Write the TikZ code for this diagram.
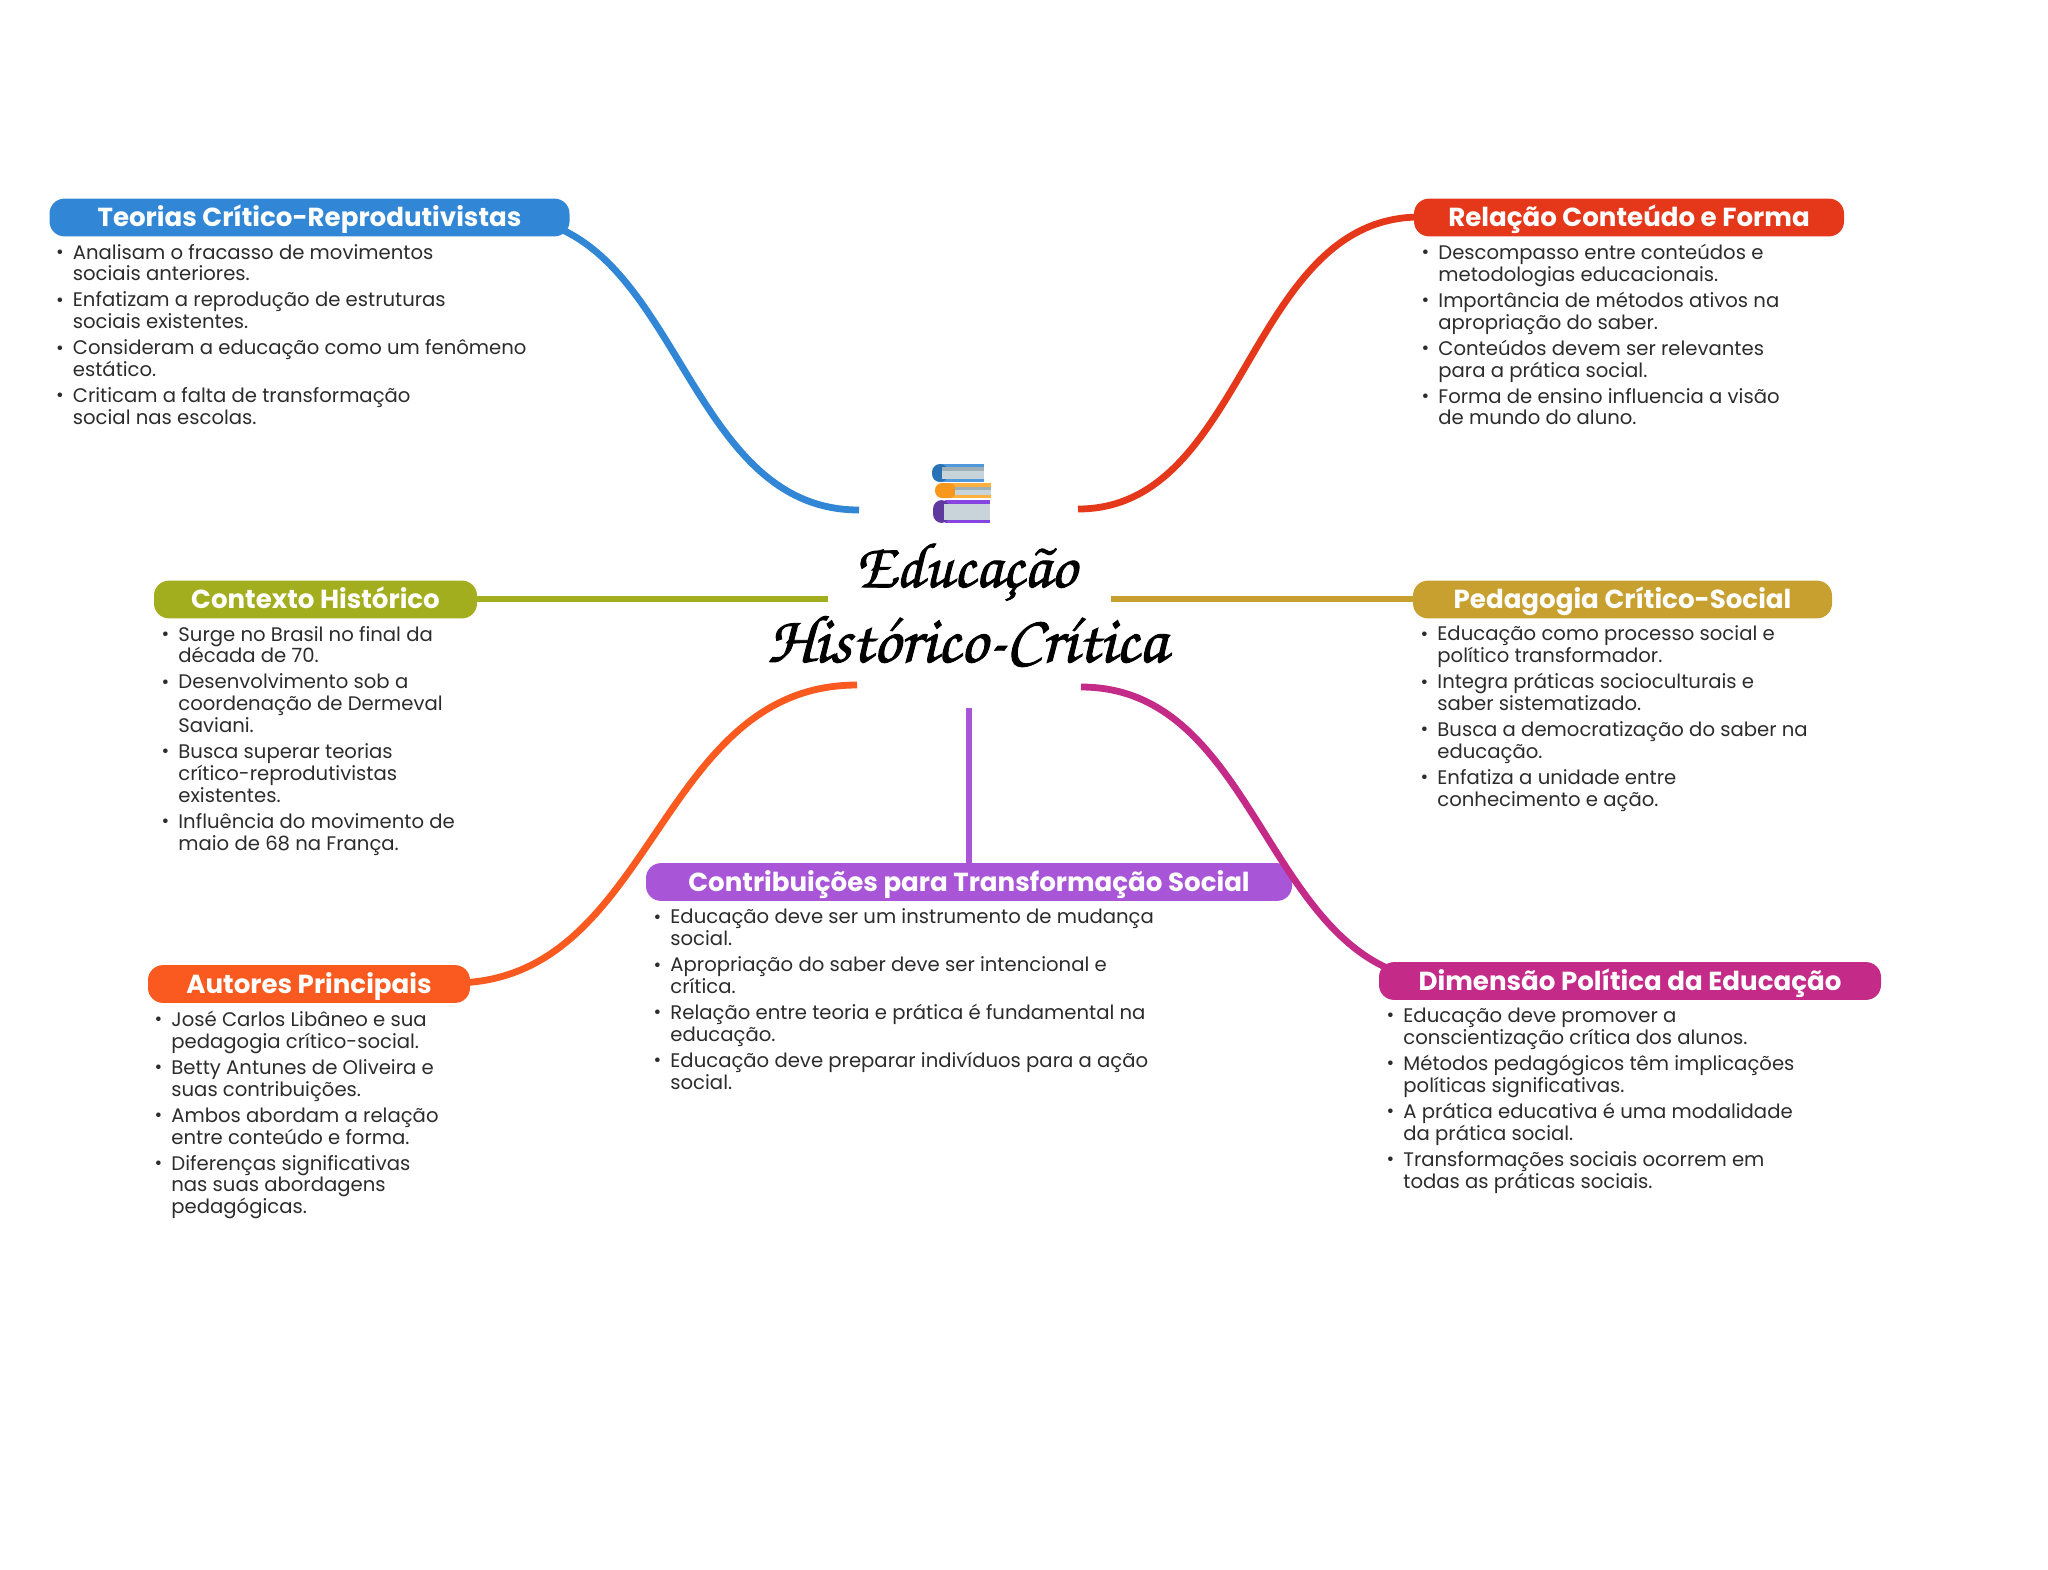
\documentclass[tikz,border=0pt]{standalone}
\usepackage{fontspec}
\setmainfont{Poppins}
\usetikzlibrary{positioning}
\definecolor{cblue}{HTML}{3186D6}
\definecolor{cred}{HTML}{E5381B}
\definecolor{cgreen}{HTML}{A3AE1E}
\definecolor{cgold}{HTML}{C8A030}
\definecolor{cpurple}{HTML}{A855D8}
\definecolor{corange}{HTML}{FA5A20}
\definecolor{cmag}{HTML}{C42A88}
\definecolor{ctext}{HTML}{2C2C2C}
\definecolor{pagegrey}{HTML}{C8D4DA}
\definecolor{pagedark}{HTML}{9DB0B8}
\definecolor{bookorange}{HTML}{F7981D}
\definecolor{booklight}{HTML}{FBB040}
\definecolor{bookviolet}{HTML}{5E3A9E}
\newcommand{\bl}{\leavevmode\llap{\raisebox{0.4pt}{\scalebox{0.95}{•}}\hspace{4.5pt}}}
\newcommand{\itemgap}{\\[2.05pt]}
\newcommand{\heavy}[1]{\special{pdf:code 2 Tr 0.45 w}#1\special{pdf:code 0 Tr 1 w}}
\tikzset{
 pill/.style={fill=#1,rounded corners=7.5pt,text=white,font=\fontsize{13.05}{15}\selectfont\bfseries,inner sep=0pt,text height=11pt,text depth=2pt,minimum height=18.9pt},
 blist/.style={anchor=north west,inner sep=0pt,align=left,text=ctext,font=\fontsize{9.82}{10.95}\selectfont},
 branch/.style={line width=3.4pt,draw=#1},
 titletext/.style={anchor=base,inner sep=0pt,text=black},
}
\begin{document}
\begin{tikzpicture}[x=0.5pt,y=-0.5pt]
\useasboundingbox (0,0) rectangle (2048,1569);
\fill[white] (0,0) rectangle (2048,1569);
% free ends at the centre
\coordinate (eBlue) at (859,510);
\coordinate (eRed) at (1078,509);
\coordinate (eGreen) at (828,599);
\coordinate (eGold) at (1111,599);
\coordinate (eOrange) at (857,685);
\coordinate (eMag) at (1081,687);
\coordinate (ePurple) at (969,708);
\coordinate (sBlue) at (503,217);
\coordinate (sMag) at (1449,981);
% connectors first, under the pills
\draw[branch=cblue] (sBlue) .. controls (680,217) and (680,510) .. (eBlue);
\draw[branch=cred] (eRed) .. controls (1247,509) and (1247,217) .. (1420,217);
\draw[branch=cgreen] (eGreen) -- (470,599);
\draw[branch=cgold] (eGold) -- (1420,599);
\draw[branch=corange] (eOrange) .. controls (655,685) and (655,983) .. (453,983);
\draw[branch=cpurple] (ePurple) -- (969,870);
% pills
\node[pill=cblue,minimum width=260pt] (teorias) at (309.5,217.5) {Teorias Crítico-Reprodutivistas};
\node[pill=cred,minimum width=215pt] (relacao) at (1629,217.5) {Relação Conteúdo e Forma};
\node[pill=cgreen,minimum width=161.5pt] (contexto) at (315.5,599.5) {Contexto Histórico};
\node[pill=cgold,minimum width=209.5pt] (pedagogia) at (1622.5,599.5) {Pedagogia Crítico-Social};
\node[pill=cpurple,minimum width=323pt] (contrib) at (969,882) {Contribuições para Transformação Social};
\node[pill=corange,minimum width=161pt] (autores) at (309,984) {Autores Principais};
\draw[branch=cmag] (eMag) .. controls (1265,687) and (1265,981) .. (sMag);
\node[pill=cmag,minimum width=251pt] (dimensao) at (1630,981) {Dimensão Política da Educação};
% lists
\node[blist] (l1) at (72.5,243.6) {\bl Analisam o fracasso de movimentos\\sociais anteriores.\itemgap\bl Enfatizam a reprodução de estruturas\\sociais existentes.\itemgap\bl Consideram a educação como um fenômeno\\estático.\itemgap\bl Criticam a falta de transformação\\social nas escolas.};
\node[blist] (l2) at (1438,243.6) {\bl Descompasso entre conteúdos e\\metodologias educacionais.\itemgap\bl Importância de métodos ativos na\\apropriação do saber.\itemgap\bl Conteúdos devem ser relevantes\\para a prática social.\itemgap\bl Forma de ensino influencia a visão\\de mundo do aluno.};
\node[blist] (l3) at (178,625.6) {\bl Surge no Brasil no final da\\década de 70.\itemgap\bl Desenvolvimento sob a\\coordenação de Dermeval\\Saviani.\itemgap\bl Busca superar teorias\\crítico-reprodutivistas\\existentes.\itemgap\bl Influência do movimento de\\maio de 68 na França.};
\node[blist] (l4) at (1437,625.6) {\bl Educação como processo social e\\político transformador.\itemgap\bl Integra práticas socioculturais e\\saber sistematizado.\itemgap\bl Busca a democratização do saber na\\educação.\itemgap\bl Enfatiza a unidade entre\\conhecimento e ação.};
\node[blist] (l5) at (670,908.6) {\bl Educação deve ser um instrumento de mudança\\social.\itemgap\bl Apropriação do saber deve ser intencional e\\crítica.\itemgap\bl Relação entre teoria e prática é fundamental na\\educação.\itemgap\bl Educação deve preparar indivíduos para a ação\\social.};
\node[blist] (l6) at (171,1010.6) {\bl José Carlos Libâneo e sua\\pedagogia crítico-social.\itemgap\bl Betty Antunes de Oliveira e\\suas contribuições.\itemgap\bl Ambos abordam a relação\\entre conteúdo e forma.\itemgap\bl Diferenças significativas\\nas suas abordagens\\pedagógicas.};
\node[blist] (l7) at (1403,1007.6) {\bl Educação deve promover a\\conscientização crítica dos alunos.\itemgap\bl Métodos pedagógicos têm implicações\\políticas significativas.\itemgap\bl A prática educativa é uma modalidade\\da prática social.\itemgap\bl Transformações sociais ocorrem em\\todas as práticas sociais.};
% title
\node[titletext,font=\usefont{T1}{pzc}{mb}{it}\fontsize{32}{40}\selectfont] (t1) at (966,587) {\heavy{Educa\c{c}\~ao}};
\node[titletext,font=\usefont{T1}{pzc}{mb}{it}\fontsize{33.8}{40}\selectfont] (t2) at (967,662) {\heavy{Hist\'orico-Cr\'{\i}tica}};
% book icon
% top book
\fill[cblue!85!white] (940,464) rectangle (984,482);
\fill[cblue!85!black,rounded corners=4pt] (932,464) rectangle (948,482);
\fill[pagegrey] (942,467) rectangle (984,479);
\fill[pagedark] (942,467) rectangle (984,470.5);
% middle book
\fill[booklight] (945,483) rectangle (991,498);
\fill[bookorange,rounded corners=3.5pt] (935,483) rectangle (956,498);
\fill[pagegrey] (955,486.5) rectangle (991,495);
\fill[pagedark] (955,486.5) rectangle (991,489.5);
% bottom book
\fill[cpurple!80!blue] (945,500) rectangle (990,523);
\fill[bookviolet,rounded corners=4.5pt] (933,500) rectangle (950,523);
\fill[pagegrey] (944,503.5) rectangle (990,519.5);
\end{tikzpicture}
\end{document}
